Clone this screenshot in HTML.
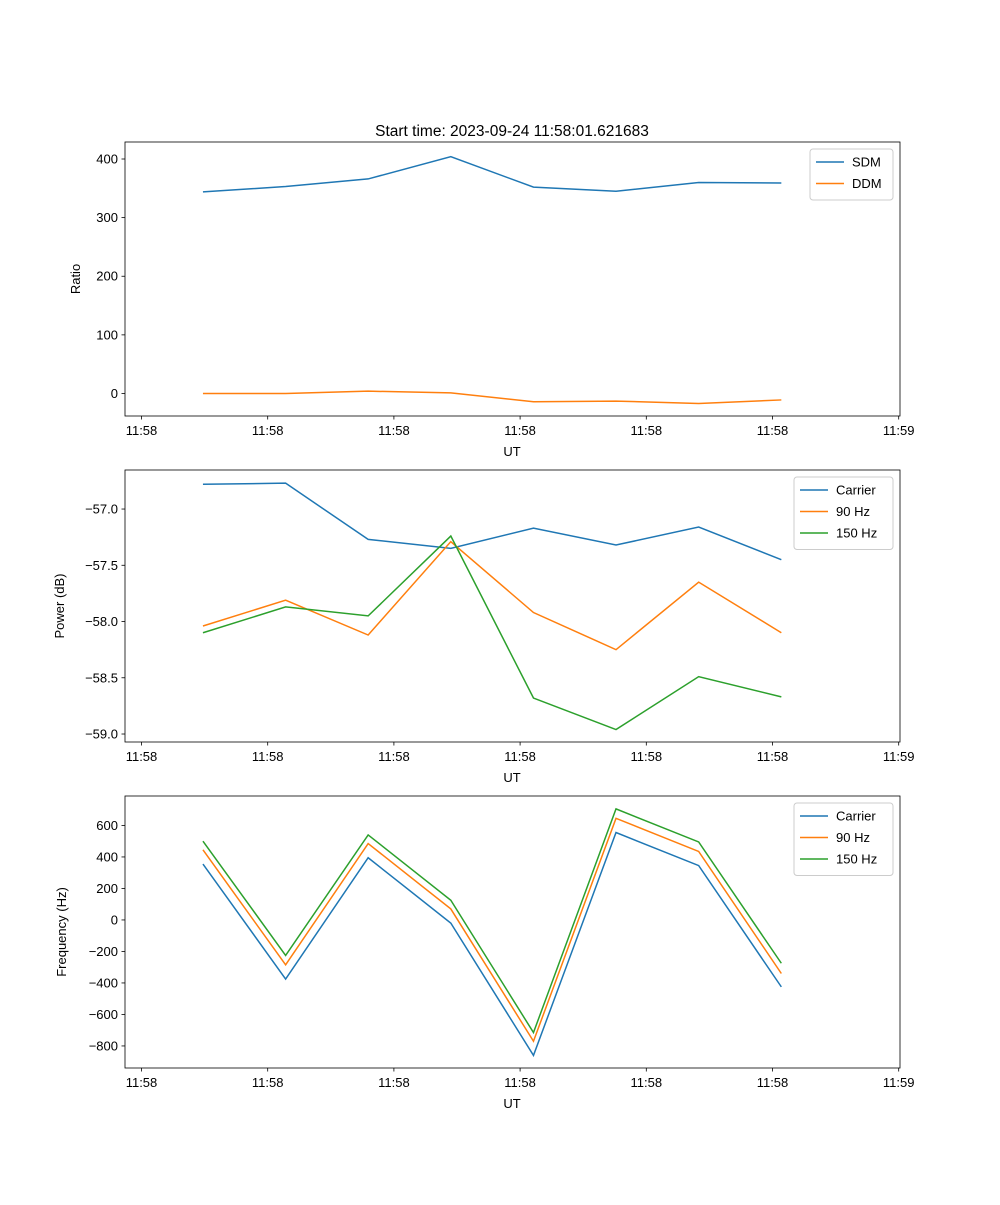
<!DOCTYPE html>
<html><head><meta charset="utf-8">
<style>
body{margin:0;background:#fff;}
svg text{font-family:"Liberation Sans","DejaVu Sans",sans-serif;font-size:13px;fill:#000;}
</style></head>
<body>
<svg id="chart" width="1000" height="1200" xmlns="http://www.w3.org/2000/svg">
<rect width="1000" height="1200" fill="#fff"/>
<text x="512" y="136" text-anchor="middle" style="font-size:15.5px">Start time: 2023-09-24 11:58:01.621683</text>
</svg>
<script>
const times=[0.487,1.142,1.796,2.451,3.106,3.760,4.415,5.070];
const xTickVals=[0,1,2,3,4,5,6];
const xTickLabels=["11:58","11:58","11:58","11:58","11:58","11:58","11:59"];
const sdm=[344,353,366,404,352,345,360,359];
const ddm=[0,0,4,1,-14,-13,-17,-11];
const powCarrier=[-56.78,-56.77,-57.27,-57.35,-57.17,-57.32,-57.16,-57.45];
const pow90=[-58.04,-57.81,-58.12,-57.29,-57.92,-58.25,-57.65,-58.10];
const pow150=[-58.10,-57.87,-57.95,-57.24,-58.68,-58.96,-58.49,-58.67];
const freqCarrier=[355,-375,395,-20,-860,555,345,-425];
const freq90=[445,-285,485,70,-770,645,435,-340];
const freq150=[500,-225,540,125,-715,705,495,-275];
const ticks1=[0,100,200,300,400],tickLabels1=["0","100","200","300","400"];
const ticks2=[-59,-58.5,-58,-57.5,-57],tickLabels2=["−59.0","−58.5","−58.0","−57.5","−57.0"];
const ticks3=[-800,-600,-400,-200,0,200,400,600],tickLabels3=["−800","−600","−400","−200","0","200","400","600"];
const C=["#1f77b4","#ff7f0e","#2ca02c"];
const svg=document.getElementById('chart');
const NS="http://www.w3.org/2000/svg";
function mk(t,a){const e=document.createElementNS(NS,t);for(const k in a)e.setAttribute(k,a[k]);svg.appendChild(e);return e;}
const L=125,R=900;
const xs=v=>141.5+v*126.2;
function panel(name,top,bot,ymin,ymax,ticks,labels,ylabel,series,names,legW){
  const ys=v=>bot-(v-ymin)/(ymax-ymin)*(bot-top);
  series.forEach((s,i)=>{
    const p=mk('polyline',{points:s.map((v,j)=>xs(times[j])+','+ys(v)).join(' '),fill:'none',stroke:C[i],'stroke-width':1.5});
    
    
  });
  const f=mk('rect',{x:L,y:top,width:R-L,height:bot-top,fill:'none',stroke:'#000','stroke-width':0.8});
  
  
  ticks.forEach((v,i)=>{
    mk('line',{x1:L-3.5,x2:L,y1:ys(v),y2:ys(v),stroke:'#000','stroke-width':0.8});
    const t=mk('text',{x:L-7,y:ys(v)+4.5,'text-anchor':'end'});t.textContent=labels[i];
    
    
  });
  xTickVals.forEach((v,i)=>{
    mk('line',{x1:xs(v),x2:xs(v),y1:bot,y2:bot+3.5,stroke:'#000','stroke-width':0.8});
    const t=mk('text',{x:xs(v),y:bot+19,'text-anchor':'middle'});t.textContent=xTickLabels[i];
    
    
  });
  const xl=mk('text',{x:512,y:bot+40,'text-anchor':'middle'});xl.textContent='UT';
  
  
  const cy=(top+bot)/2;
  const yl=mk('text',{x:0,y:0,'text-anchor':'middle',transform:`translate(${ylabel[1]},${cy}) rotate(-90)`});yl.textContent=ylabel[0];
  
  
  const lx=R-7-legW,ly=top+7,lh=names.length*21.5+8;
  const lg=mk('rect',{x:lx,y:ly,width:legW,height:lh,rx:3,fill:'#fff',stroke:'#ccc','stroke-width':1});
  
  
  names.forEach((n,i)=>{
    const yy=ly+13+i*21.5;
    mk('line',{x1:lx+6,x2:lx+34,y1:yy,y2:yy,stroke:C[i],'stroke-width':1.5});
    const t=mk('text',{x:lx+42,y:yy+4.5});t.textContent=n;
    
    
  });
}
panel('ratio-panel',142,416,-38.4,429,ticks1,tickLabels1,['Ratio',80],[sdm,ddm],['SDM','DDM'],83);
panel('power-panel',470,742,-59.071,-56.653,ticks2,tickLabels2,['Power (dB)',64],[powCarrier,pow90,pow150],['Carrier','90 Hz','150 Hz'],99);
panel('frequency-panel',796,1068,-940,787,ticks3,tickLabels3,['Frequency (Hz)',66],[freqCarrier,freq90,freq150],['Carrier','90 Hz','150 Hz'],99);
</script>
</body></html>
